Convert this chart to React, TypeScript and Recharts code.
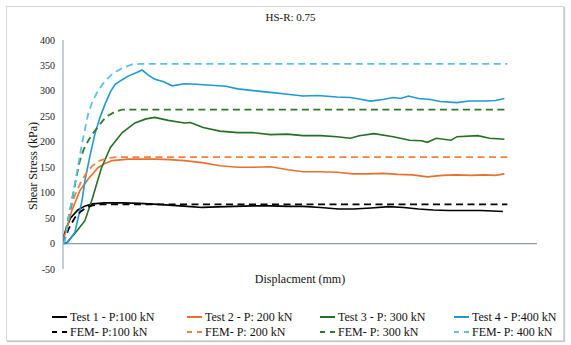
import React from 'react';
import { LineChart, Line, XAxis, YAxis, ReferenceLine } from 'recharts';

const SERIF = '"Liberation Serif", "Times New Roman", "DejaVu Serif", serif';

const TITLE = 'HS-R: 0.75';
const X_LABEL = 'Displacment (mm)';
const Y_LABEL = 'Shear Stress (kPa)';
const X_TICKS = [0, 2, 4, 6, 8, 10, 12, 14, 16];
const Y_TICKS = [-50, 0, 50, 100, 150, 200, 250, 300, 350, 400];
const X_DOMAIN: [number, number] = [0, 16];
const Y_DOMAIN: [number, number] = [-50, 400];

type P = [number, number];

const test1: P[] = [
  [0, 10], [0.1, 28], [0.25, 50], [0.5, 66], [0.75, 74], [1.0, 78], [1.4, 80], [2.0, 80], [2.6, 79],
  [3.2, 77], [3.7, 75], [4.2, 73], [4.7, 71], [5.2, 72], [5.8, 73], [6.4, 74], [7.0, 74], [7.6, 73],
  [8.1, 73], [8.7, 71], [9.3, 68], [9.8, 68], [10.4, 70], [11.0, 72.5], [11.5, 71], [12.0, 68],
  [12.5, 66], [13.0, 65], [13.5, 65], [14.1, 65], [14.5, 64], [14.85, 63],
];
const test2: P[] = [
  [0, 5], [0.1, 25], [0.3, 65], [0.57, 104], [0.85, 127], [1.18, 149], [1.4, 157], [1.66, 163],
  [2.2, 166], [2.7, 166], [3.1, 166], [3.6, 165], [4.1, 163], [4.7, 159], [5.3, 153], [5.9, 150],
  [6.4, 150], [7.0, 151], [7.6, 145], [8.1, 141], [8.7, 141], [9.25, 140], [9.8, 137], [10.3, 137],
  [10.8, 138], [11.3, 136], [11.8, 135], [12.3, 131], [12.8, 134], [13.3, 135], [13.8, 134],
  [14.2, 135], [14.6, 134], [14.9, 137],
];
const test3: P[] = [
  [0, 0], [0.13, 2], [0.4, 20], [0.74, 45], [1.0, 90], [1.15, 120], [1.3, 149], [1.6, 189],
  [2.0, 218], [2.43, 237], [2.8, 245], [3.1, 248], [3.55, 242], [4.1, 237], [4.3, 238], [4.73, 228],
  [5.3, 221], [5.9, 218], [6.4, 218], [7.0, 214], [7.57, 215], [8.1, 212], [8.7, 212], [9.25, 210],
  [9.7, 207], [10.0, 212], [10.5, 216], [11.15, 210], [11.7, 203], [12.1, 202], [12.3, 199],
  [12.6, 207], [13.1, 203], [13.3, 210], [14.0, 212], [14.4, 207], [14.9, 205],
];
const test4: P[] = [
  [0, 0], [0.13, 0], [0.4, 22], [0.64, 84], [0.74, 123], [0.9, 170], [1.08, 216], [1.25, 248],
  [1.42, 274], [1.6, 298], [1.76, 313], [2.0, 322], [2.2, 329], [2.45, 335], [2.67, 341], [2.9, 330],
  [3.1, 323], [3.4, 318], [3.68, 310], [4.1, 314], [4.5, 313], [5.0, 311], [5.5, 309], [5.9, 304],
  [6.5, 300], [7.0, 297], [7.5, 294], [8.1, 290], [8.6, 291], [9.25, 288], [9.7, 287], [10.0, 284],
  [10.37, 280], [10.8, 283], [11.15, 287], [11.4, 285], [11.66, 290], [12.0, 285], [12.4, 283],
  [12.74, 279], [13.3, 277], [13.7, 280], [14.2, 280], [14.6, 281], [14.9, 285],
];
const fem1: P[] = [
  [0, 0], [0.2, 30], [0.4, 51], [0.6, 63], [0.8, 71], [1.0, 75], [1.3, 77], [1.6, 77], [15, 77],
];
const fem2: P[] = [
  [0, 0], [0.2, 55], [0.4, 95], [0.6, 120], [0.8, 140], [1.0, 153], [1.2, 162], [1.5, 168],
  [1.8, 170], [15, 170],
];
const fem3: P[] = [
  [0, 0], [0.15, 40], [0.3, 84], [0.45, 130], [0.57, 163], [0.7, 185], [0.85, 202], [1.0, 216],
  [1.18, 229], [1.35, 242], [1.52, 251], [1.75, 259], [2.0, 263], [15, 263],
];
const fem4: P[] = [
  [0, 0], [0.07, 6], [0.2, 55], [0.4, 117], [0.64, 196], [0.85, 255], [1.0, 280], [1.18, 300],
  [1.4, 318], [1.66, 333], [2.0, 345], [2.33, 352], [2.6, 353], [15, 353],
];

const SERIES_NAMES = [
  'Test 1 - P:100 kN', 'Test 2 - P: 200 kN', 'Test 3 - P: 300 kN', 'Test 4 - P:400 kN',
  'FEM- P:100 kN', 'FEM- P: 200 kN', 'FEM- P: 300 kN', 'FEM- P: 400 kN',
];
const SERIES_DATA = [test1, test2, test3, test4, fem1, fem2, fem3, fem4];
const SERIES_COLORS = [
  '#000000', '#E8702F', '#267026', '#1E9AD3',
  '#000000', '#F0823F', '#2E7A2A', '#5CC0EC',
];
const SERIES_DASHED = [false, false, false, false, true, true, true, true];

const W = 571;
const H = 345;
const M = { top: 40, right: 34, bottom: 76, left: 33 };
const Y_AXIS_W = 30;
const PLOT_TOP = M.top;
const PLOT_H = H - M.top - M.bottom;
const zeroY = PLOT_TOP + (PLOT_H * (Y_DOMAIN[1] - 0)) / (Y_DOMAIN[1] - Y_DOMAIN[0]);
const AXIS_COLOR = '#8D9CB3';

const XTick = (props: any) => {
  const { x, payload } = props;
  return (
    <g>
      <line x1={x} x2={x} y1={zeroY} y2={zeroY - 3} stroke={AXIS_COLOR} strokeWidth={1} />
      <text x={x} y={zeroY + 15} textAnchor="middle" fontSize={10} fill="#222" fontFamily={SERIF}>
        {payload.value}
      </text>
    </g>
  );
};

const LEGEND_COLS = [70, 205, 338, 472];
const LEGEND_ROWS = [317, 332];

const LegendBlock = () => (
  <>
    {SERIES_NAMES.map((name, i) => {
      const col = i % 4;
      const row = Math.floor(i / 4);
      const left = LEGEND_COLS[col];
      const cy = LEGEND_ROWS[row];
      return (
        <div
          key={name}
          style={{ position: 'absolute', left: left - 18, top: cy - 8, height: 16, display: 'flex', alignItems: 'center', whiteSpace: 'nowrap' }}
        >
          <svg width={18} height={16} style={{ display: 'block' }}>
            <line
              x1={0}
              x2={15}
              y1={8}
              y2={8}
              stroke={SERIES_COLORS[i]}
              strokeWidth={2}
              strokeDasharray={SERIES_DASHED[i] ? '5 5' : undefined}
            />
          </svg>
          <span style={{ fontSize: 12, fontFamily: SERIF, color: '#111', lineHeight: '16px' }}>{name}</span>
        </div>
      );
    })}
  </>
);

export default function App() {
  return (
    <div style={{ position: 'absolute', left: 0, top: 0, width: W, height: H, background: '#fff', fontFamily: SERIF }}>
      <div
        style={{ position: 'absolute', left: 6, top: 6, width: 558, height: 335, border: '1px solid #D6D6D6', boxShadow: '1px 1px 1px #C8C8C8', boxSizing: 'border-box' }}
      />
      <div style={{ position: 'absolute', left: 190, top: 9, width: 201, textAlign: 'center', fontSize: 11, lineHeight: '16px', color: '#111' }}>
        {TITLE}
      </div>
      <LineChart width={W} height={H} margin={M} style={{ position: 'absolute', left: 0, top: 0 }}>
        <XAxis
          type="number"
          dataKey="x"
          domain={X_DOMAIN}
          ticks={X_TICKS}
          height={0}
          tick={<XTick />}
          tickLine={false}
          axisLine={{ stroke: AXIS_COLOR, strokeWidth: 1.2 }}
          allowDataOverflow
        />
        <XAxis
          xAxisId="top"
          orientation="top"
          type="number"
          domain={X_DOMAIN}
          height={0}
          tick={false}
          tickLine={false}
          axisLine={{ stroke: '#5F6F88', strokeWidth: 1.2 }}
        />
        <YAxis
          type="number"
          domain={Y_DOMAIN}
          ticks={Y_TICKS}
          width={Y_AXIS_W}
          tickLine={false}
          tickSize={6}
          tickMargin={2}
          tick={{ fontSize: 10, fill: '#222', fontFamily: SERIF }}
          axisLine={{ stroke: AXIS_COLOR, strokeWidth: 1 }}
          allowDataOverflow
        />
        <YAxis
          yAxisId="r"
          orientation="right"
          type="number"
          domain={Y_DOMAIN}
          width={0}
          tick={false}
          tickLine={false}
          axisLine={{ stroke: AXIS_COLOR, strokeWidth: 1.2 }}
        />
        <ReferenceLine y={0} stroke={AXIS_COLOR} strokeWidth={1.2} />
        {SERIES_DATA.map((pts, i) => (
          <Line
            key={SERIES_NAMES[i]}
            name={SERIES_NAMES[i]}
            data={pts.map(([x, y]) => ({ x, y }))}
            dataKey="y"
            type="linear"
            stroke={SERIES_COLORS[i]}
            strokeWidth={SERIES_DASHED[i] ? 1.8 : 1.6}
            strokeDasharray={SERIES_DASHED[i] ? '7 4.5' : undefined}
            dot={false}
            activeDot={false}
            isAnimationActive={false}
          />
        ))}
      </LineChart>
      <div
        style={{ position: 'absolute', left: 33 - 60, top: 166 - 8, width: 120, textAlign: 'center', fontSize: 12, lineHeight: '16px', transform: 'rotate(-90deg)', color: '#111', whiteSpace: 'nowrap' }}
      >
        {Y_LABEL}
      </div>
      <div style={{ position: 'absolute', left: 200, top: 271, width: 200, textAlign: 'center', fontSize: 12, lineHeight: '16px', color: '#111' }}>
        {X_LABEL}
      </div>
      <LegendBlock />
    </div>
  );
}
